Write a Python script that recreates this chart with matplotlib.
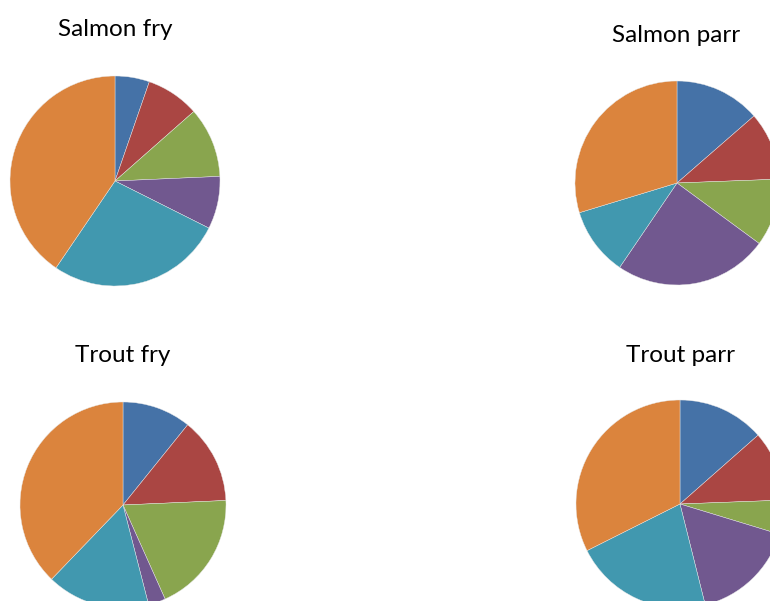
import matplotlib
matplotlib.use("Agg")
import matplotlib.pyplot as plt

# --- Data (percent shares, read clockwise from 12 o'clock) ---
titles = ["Salmon fry", "Salmon parr", "Trout fry", "Trout parr"]
salmon_fry = [5.3, 8.2, 10.8, 8.1, 27.1, 40.5]
salmon_parr = [13.6, 10.8, 10.7, 24.4, 10.8, 29.7]
trout_fry = [10.8, 13.5, 19.0, 2.7, 16.2, 37.8]
trout_parr = [13.5, 10.9, 5.3, 16.4, 21.5, 32.4]

colors = ["#4572A7", "#AA4643", "#89A54E", "#71588F", "#4198AF", "#DB843D"]

W, H = 770, 601
fig = plt.figure(figsize=(W / 100, H / 100), dpi=100)

# centre x, centre y (pixels from top), radius, title x, title baseline y
layout = [
    (115, 181, 105, 115, 36),
    (677, 183, 102, 676, 42),
    (123, 505, 103, 123, 362),
    (680, 504, 104, 680, 362),
]

for vals, title, (cx, cy, r, tx, ty) in zip(
        [salmon_fry, salmon_parr, trout_fry, trout_parr], titles, layout):
    ax = fig.add_axes([(cx - r) / W, (H - cy - r) / H, 2 * r / W, 2 * r / H])
    ax.pie(vals, colors=colors, startangle=90, counterclock=False,
           radius=1, wedgeprops=dict(edgecolor="#e8e8e8", linewidth=0.3))
    ax.set_xlim(-1, 1)
    ax.set_ylim(-1, 1)
    ax.set_aspect("equal")
    ax.axis("off")
    fig.text(tx / W, 1 - ty / H, title, ha="center", va="baseline",
             fontsize=17.5, family="Lato", color="#000000")

fig.savefig("out.png", dpi=100)
